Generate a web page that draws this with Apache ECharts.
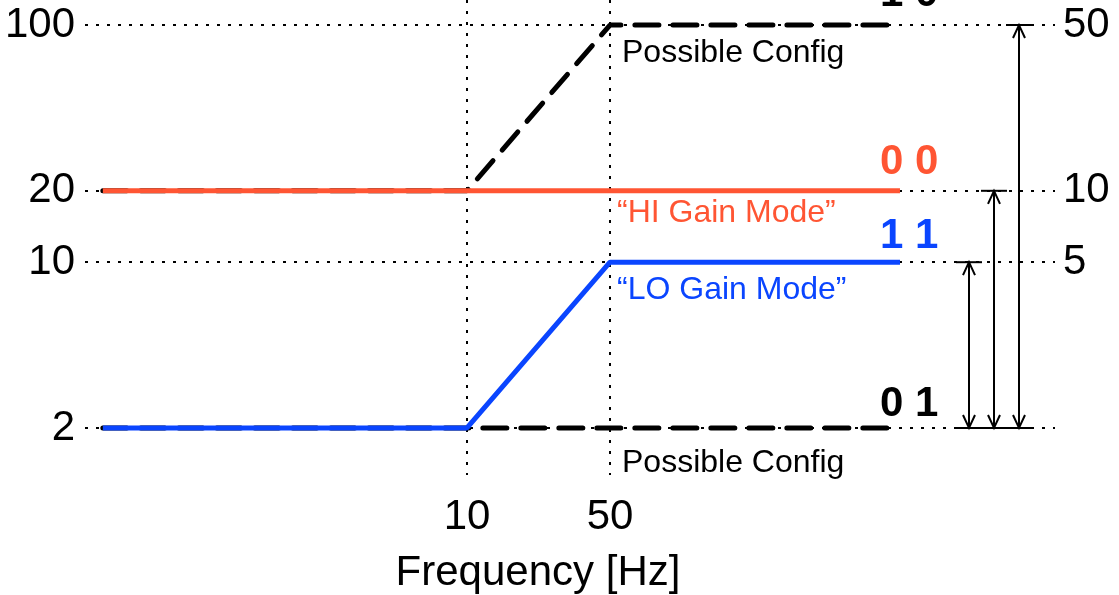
<!DOCTYPE html>
<html><head><meta charset="utf-8">
<script src="https://cdn.jsdelivr.net/npm/echarts@6/dist/echarts.min.js"></script>
<style>html,body{margin:0;padding:0;background:#fff}#c{width:1119px;height:595px}</style>
</head><body><div id="c"></div>
<script>
// ---- data ----
const freqTicks = [10, 50];
const leftTicks = [2, 10, 20, 100];
const rightTicks = [1, 5, 10, 50];
const rightLabels = [5, 10, 50];
const freq = [0.166, 10, 50, 1307];
const hiGain = [20, 20, 20, 20];
const loGain = [2, 2, 10, 10];
const possibleHigh = [20, 20, 100, 100];
const possibleLow = [2, 2, 2, 2];
const arrowBase = [1, 1, 1];
const arrowTop = [5, 10, 50];

const FONT = "'Liberation Sans', Helvetica, Arial, sans-serif";
const RED = '#FF5533', BLUE = '#0A45FF';
function pts(ys) { return freq.map((f, i) => [f, ys[i]]); }

const chart = echarts.init(document.getElementById('c'), null, {renderer: 'canvas'});
const dotted = {color: '#000', width: 2, type: [3, 8]};

chart.setOption({
  animation: false,
  backgroundColor: '#fff',
  grid: {left: 85, right: 64, top: 0, bottom: 120, containLabel: false, outerBoundsMode: 'none'},
  xAxis: {
    type: 'log', min: 0.1358, max: 7482,
    axisLine: {show: false}, axisTick: {show: false, customValues: freqTicks},
    axisLabel: {customValues: freqTicks, fontSize: 42, color: '#000', fontFamily: FONT, margin: 21},
    splitLine: {show: true, lineStyle: dotted},
    minorSplitLine: {show: false},
    name: 'Frequency [Hz]', nameLocation: 'middle', nameGap: 77,
    nameTextStyle: {fontSize: 42, color: '#000', fontFamily: FONT, padding: [0, 64, 0, 0]}
  },
  yAxis: [{
    type: 'log', min: 1.267, max: 127.5, position: 'left',
    axisLine: {show: false}, axisTick: {show: false, customValues: leftTicks},
    axisLabel: {customValues: leftTicks, fontSize: 42, color: '#000', fontFamily: FONT, margin: 10},
    splitLine: {show: true, lineStyle: dotted}
  }, {
    type: 'log', min: 0.6335, max: 63.75, position: 'right',
    axisLine: {show: false}, axisTick: {show: false, customValues: rightTicks},
    axisLabel: {customValues: rightLabels, fontSize: 42, color: '#000', fontFamily: FONT, margin: 8},
    splitLine: {show: false}
  }],
  series: [
    {type: 'line', name: 'Possible Config', data: pts(possibleHigh), symbol: 'none', z: 3,
     lineStyle: {color: '#000', width: 5, type: [24, 14], cap: 'round'}},
    {type: 'line', name: 'Possible Config', data: pts(possibleLow), symbol: 'none', z: 3,
     lineStyle: {color: '#000', width: 5, type: [24, 14], cap: 'round'}},
    {type: 'line', name: 'HI Gain Mode', data: pts(hiGain), symbol: 'none', z: 4,
     lineStyle: {color: RED, width: 5}},
    {type: 'line', name: 'LO Gain Mode', data: pts(loGain), symbol: 'none', z: 4,
     lineStyle: {color: BLUE, width: 5}},
    {type: 'custom', name: 'ratio', xAxisIndex: 0, yAxisIndex: 1, z: 5,
     data: arrowTop.map((t, i) => [freq[freq.length - 1], arrowBase[i], t]),
     encode: {x: 0, y: [1, 2]},
     renderItem: function (params, api) {
       const cs = params.coordSys;
       const i = params.dataIndex;
       const x = cs.x + cs.width - 86 + 25 * i;
       const yb = api.coord([freq[0], api.value(1)])[1];
       const yt = api.coord([freq[0], api.value(2)])[1];
       const st = {stroke: '#000', lineWidth: 2, fill: null};
       return {type: 'group', children: [
         {type: 'line', shape: {x1: x, y1: yb, x2: x, y2: yt}, style: st},
         {type: 'line', shape: {x1: x - 13, y1: yt, x2: x + 13, y2: yt}, style: st},
         {type: 'line', shape: {x1: x - 13, y1: yb, x2: x + 13, y2: yb}, style: st},
         {type: 'polyline', shape: {points: [[x - 6, yt + 13], [x, yt], [x + 6, yt + 13]]}, style: st},
         {type: 'polyline', shape: {points: [[x - 6, yb - 13], [x, yb], [x + 6, yb - 13]]}, style: st}
       ]};
     }}
  ],
  graphic: [
    {type: 'text', x: 880, y: -6, style: {text: '1 0', font: 'bold 42px ' + FONT, fill: '#000', verticalAlign: 'middle'}},
    {type: 'text', x: 880, y: 162, style: {text: '0 0', font: 'bold 42px ' + FONT, fill: RED, verticalAlign: 'middle'}},
    {type: 'text', x: 880, y: 236, style: {text: '1 1', font: 'bold 42px ' + FONT, fill: BLUE, verticalAlign: 'middle'}},
    {type: 'text', x: 880, y: 404, style: {text: '0 1', font: 'bold 42px ' + FONT, fill: '#000', verticalAlign: 'middle'}},
    {type: 'text', x: 622, y: 53, style: {text: 'Possible Config', font: '32px ' + FONT, fill: '#000', verticalAlign: 'middle'}},
    {type: 'text', x: 622, y: 463, style: {text: 'Possible Config', font: '32px ' + FONT, fill: '#000', verticalAlign: 'middle'}},
    {type: 'text', x: 617, y: 213, style: {text: '\u201CHI Gain Mode\u201D', font: '32px ' + FONT, fill: RED, verticalAlign: 'middle'}},
    {type: 'text', x: 617, y: 290, style: {text: '\u201CLO Gain Mode\u201D', font: '32px ' + FONT, fill: BLUE, verticalAlign: 'middle'}}
  ]
});
</script></body></html>
